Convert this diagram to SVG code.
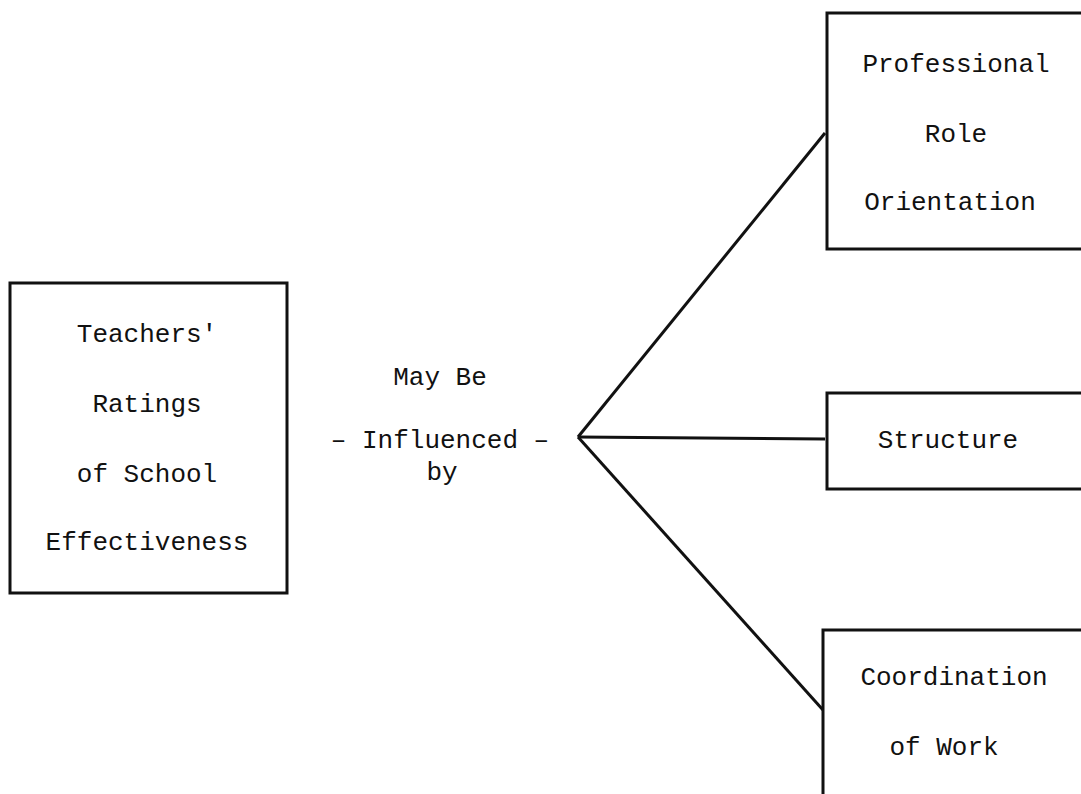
<svg xmlns="http://www.w3.org/2000/svg" width="1081" height="794" viewBox="0 0 1081 794">
<style>
.box{fill:none;stroke:#111;stroke-width:3}
.lbl{font-family:"Liberation Mono","DejaVu Sans Mono",monospace;font-size:26px;fill:#111;text-anchor:middle}
.con{stroke:#111;stroke-width:3;fill:none}
</style>
<rect width="1081" height="794" fill="#fff"/>
<g id="teachers">
<rect class="box" x="10" y="283" width="277" height="310"/>
<text class="lbl" x="147" y="342">Teachers'</text>
<text class="lbl" x="147" y="412">Ratings</text>
<text class="lbl" x="147" y="482">of School</text>
<text class="lbl" x="147" y="550">Effectiveness</text>
</g>
<g id="label">
<text class="lbl" x="440" y="385">May Be</text>
<text class="lbl" x="440" y="448">– Influenced –</text>
<text class="lbl" x="442" y="480">by</text>
</g>
<g id="professional">
<rect class="box" x="827" y="13" width="270" height="236"/>
<text class="lbl" x="956" y="72">Professional</text>
<text class="lbl" x="956" y="142">Role</text>
<text class="lbl" x="950" y="210">Orientation</text>
</g>
<g id="structure">
<rect class="box" x="827" y="393" width="270" height="96"/>
<text class="lbl" x="948" y="448">Structure</text>
</g>
<g id="coordination">
<rect class="box" x="823" y="630" width="270" height="190"/>
<text class="lbl" x="954" y="685">Coordination</text>
<text class="lbl" x="944" y="755">of Work</text>
</g>
<g id="connectors">
<line class="con" x1="578" y1="437" x2="825" y2="133"/>
<line class="con" x1="578" y1="437" x2="825" y2="439"/>
<line class="con" x1="578" y1="437" x2="823" y2="710"/>
</g>
</svg>
